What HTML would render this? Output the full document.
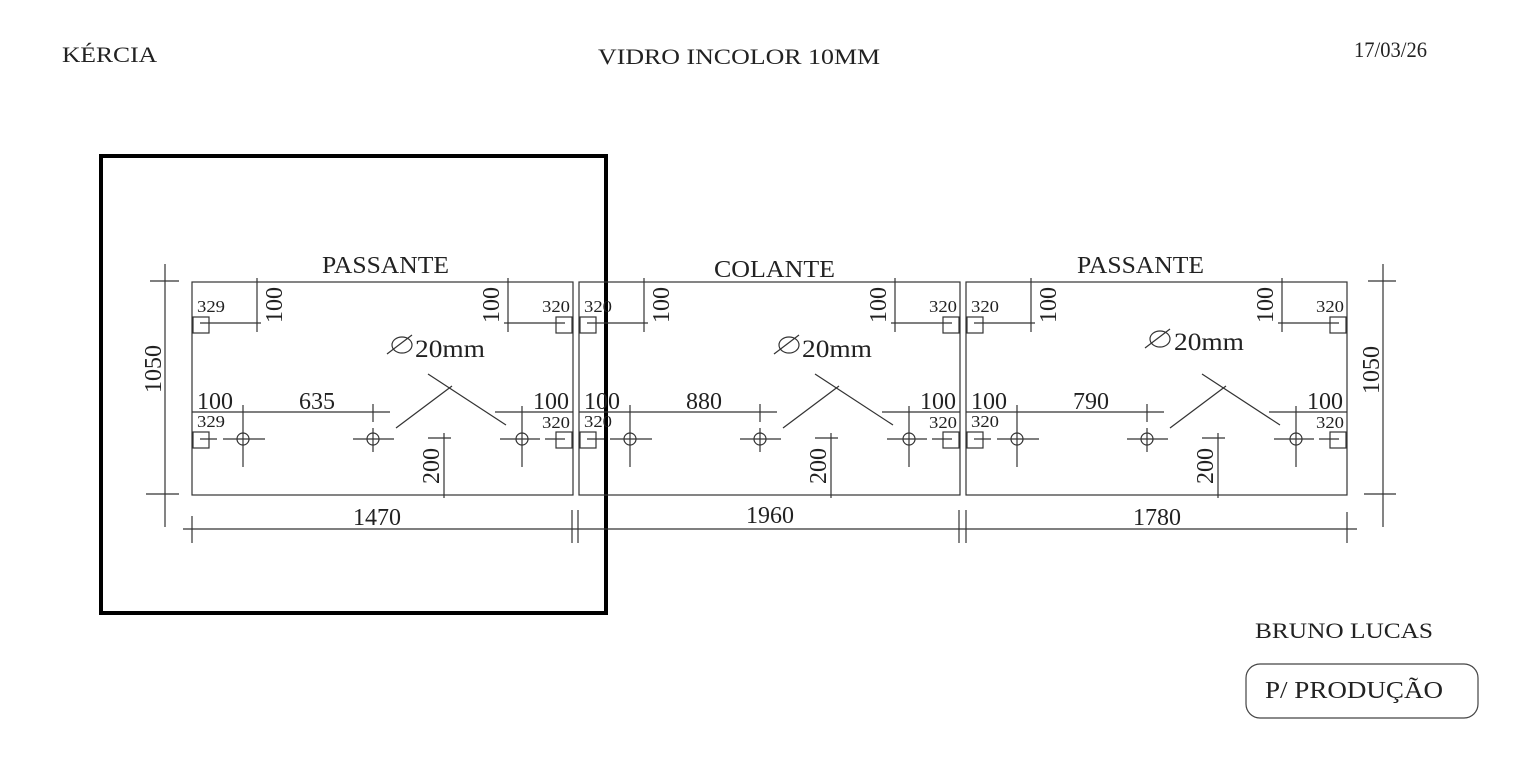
<!DOCTYPE html>
<html><head><meta charset="utf-8"><style>
html,body{margin:0;padding:0;background:#fff;}
svg{display:block;}
text{font-family:"Liberation Serif",serif;fill:#222;}
</style></head><body>
<svg width="1535" height="767" viewBox="0 0 1535 767" xmlns="http://www.w3.org/2000/svg">
<defs>
<g id="pnl" stroke="#333" stroke-width="1.2" fill="none">
  <rect x="0" y="0" width="381" height="213"/>
  <rect x="1" y="35" width="16" height="16"/>
  <line x1="8" y1="41" x2="69" y2="41"/>
  <line x1="65" y1="-4" x2="65" y2="50"/>
  <rect x="364" y="35" width="16" height="16"/>
  <line x1="312" y1="41" x2="373" y2="41"/>
  <line x1="316" y1="-4" x2="316" y2="50"/>
  <line x1="0" y1="130" x2="198" y2="130"/>
  <line x1="181" y1="122" x2="181" y2="140"/>
  <line x1="303" y1="130" x2="381" y2="130"/>
  <line x1="236" y1="92" x2="314" y2="143"/>
  <line x1="204" y1="146" x2="260" y2="104"/>
  <rect x="1" y="150" width="16" height="16"/>
  <rect x="364" y="150" width="16" height="16"/>
  <line x1="8" y1="157" x2="25" y2="157"/>
  <line x1="31" y1="157" x2="73" y2="157"/>
  <circle cx="51" cy="157" r="6"/>
  <line x1="51" y1="123" x2="51" y2="185"/>
  <line x1="161" y1="157" x2="202" y2="157"/>
  <circle cx="181" cy="157" r="6"/>
  <line x1="181" y1="146" x2="181" y2="170"/>
  <line x1="308" y1="157" x2="348" y2="157"/>
  <line x1="353" y1="157" x2="373" y2="157"/>
  <circle cx="330" cy="157" r="6"/>
  <line x1="330" y1="124" x2="330" y2="185"/>
  <line x1="252" y1="151" x2="252" y2="216"/>
  <line x1="236" y1="156" x2="259" y2="156"/>
</g>
<g id="dia" stroke="#333" stroke-width="1.2" fill="none">
  <ellipse cx="0" cy="0" rx="10" ry="8"/>
  <line x1="-15" y1="9" x2="10" y2="-10"/>
</g>
</defs>

<text x="62" y="62" font-size="22" textLength="95" lengthAdjust="spacingAndGlyphs">KÉRCIA</text>
<text x="598" y="64" font-size="22" textLength="282" lengthAdjust="spacingAndGlyphs">VIDRO INCOLOR 10MM</text>
<text x="1354" y="57" font-size="22" textLength="73" lengthAdjust="spacingAndGlyphs">17/03/26</text>

<rect x="101" y="156" width="505" height="457" fill="none" stroke="#000" stroke-width="4"/>

<!-- panel 1 -->
<g transform="translate(192,282)">
  <use href="#pnl"/>
  <use href="#dia" x="210" y="63"/>
  <text x="130" y="-9" font-size="24" textLength="127" lengthAdjust="spacingAndGlyphs">PASSANTE</text>
  <text x="5" y="30" font-size="17" textLength="28" lengthAdjust="spacingAndGlyphs">329</text>
  <text x="350" y="30" font-size="17" textLength="28" lengthAdjust="spacingAndGlyphs">320</text>
  <text transform="translate(83,23) rotate(-90)" font-size="24" text-anchor="middle" dominant-baseline="central">100</text>
  <text transform="translate(300,23) rotate(-90)" font-size="24" text-anchor="middle" dominant-baseline="central">100</text>
  <text x="223" y="75" font-size="25" textLength="70" lengthAdjust="spacingAndGlyphs">20mm</text>
  <text x="5" y="127" font-size="24">100</text>
  <text x="107" y="127" font-size="24">635</text>
  <text x="377" y="127" font-size="24" text-anchor="end">100</text>
  <text x="5" y="145" font-size="17" textLength="28" lengthAdjust="spacingAndGlyphs">329</text>
  <text x="350" y="146" font-size="17" textLength="28" lengthAdjust="spacingAndGlyphs">320</text>
  <text transform="translate(240,184) rotate(-90)" font-size="24" text-anchor="middle" dominant-baseline="central">200</text>
</g>
<!-- panel 2 -->
<g transform="translate(579,282)">
  <use href="#pnl"/>
  <use href="#dia" x="210" y="63"/>
  <text x="135" y="-5" font-size="24" textLength="121" lengthAdjust="spacingAndGlyphs">COLANTE</text>
  <text x="5" y="30" font-size="17" textLength="28" lengthAdjust="spacingAndGlyphs">320</text>
  <text x="350" y="30" font-size="17" textLength="28" lengthAdjust="spacingAndGlyphs">320</text>
  <text transform="translate(83,23) rotate(-90)" font-size="24" text-anchor="middle" dominant-baseline="central">100</text>
  <text transform="translate(300,23) rotate(-90)" font-size="24" text-anchor="middle" dominant-baseline="central">100</text>
  <text x="223" y="75" font-size="25" textLength="70" lengthAdjust="spacingAndGlyphs">20mm</text>
  <text x="5" y="127" font-size="24">100</text>
  <text x="107" y="127" font-size="24">880</text>
  <text x="377" y="127" font-size="24" text-anchor="end">100</text>
  <text x="5" y="145" font-size="17" textLength="28" lengthAdjust="spacingAndGlyphs">320</text>
  <text x="350" y="146" font-size="17" textLength="28" lengthAdjust="spacingAndGlyphs">320</text>
  <text transform="translate(240,184) rotate(-90)" font-size="24" text-anchor="middle" dominant-baseline="central">200</text>
</g>
<!-- panel 3 -->
<g transform="translate(966,282)">
  <use href="#pnl"/>
  <use href="#dia" x="194" y="57"/>
  <text x="111" y="-9" font-size="24" textLength="127" lengthAdjust="spacingAndGlyphs">PASSANTE</text>
  <text x="5" y="30" font-size="17" textLength="28" lengthAdjust="spacingAndGlyphs">320</text>
  <text x="350" y="30" font-size="17" textLength="28" lengthAdjust="spacingAndGlyphs">320</text>
  <text transform="translate(83,23) rotate(-90)" font-size="24" text-anchor="middle" dominant-baseline="central">100</text>
  <text transform="translate(300,23) rotate(-90)" font-size="24" text-anchor="middle" dominant-baseline="central">100</text>
  <text x="208" y="68" font-size="25" textLength="70" lengthAdjust="spacingAndGlyphs">20mm</text>
  <text x="5" y="127" font-size="24">100</text>
  <text x="107" y="127" font-size="24">790</text>
  <text x="377" y="127" font-size="24" text-anchor="end">100</text>
  <text x="5" y="145" font-size="17" textLength="28" lengthAdjust="spacingAndGlyphs">320</text>
  <text x="350" y="146" font-size="17" textLength="28" lengthAdjust="spacingAndGlyphs">320</text>
  <text transform="translate(240,184) rotate(-90)" font-size="24" text-anchor="middle" dominant-baseline="central">200</text>
</g>

<!-- dimension lines -->
<g stroke="#333" stroke-width="1.2">
  <line x1="183" y1="529" x2="1357" y2="529"/>
  <line x1="192" y1="516" x2="192" y2="543"/>
  <line x1="572" y1="510" x2="572" y2="543"/>
  <line x1="578" y1="510" x2="578" y2="543"/>
  <line x1="959" y1="510" x2="959" y2="543"/>
  <line x1="966" y1="510" x2="966" y2="543"/>
  <line x1="1347" y1="512" x2="1347" y2="543"/>
  <line x1="165" y1="264" x2="165" y2="527"/>
  <line x1="150" y1="281" x2="179" y2="281"/>
  <line x1="146" y1="494" x2="179" y2="494"/>
  <line x1="1383" y1="264" x2="1383" y2="527"/>
  <line x1="1368" y1="281" x2="1396" y2="281"/>
  <line x1="1364" y1="494" x2="1396" y2="494"/>
</g>
<text x="377" y="525" font-size="24" text-anchor="middle">1470</text>
<text x="770" y="523" font-size="24" text-anchor="middle">1960</text>
<text x="1157" y="525" font-size="24" text-anchor="middle">1780</text>
<text transform="translate(154,369) rotate(-90)" font-size="24" text-anchor="middle" dominant-baseline="central">1050</text>
<text transform="translate(1372,370) rotate(-90)" font-size="24" text-anchor="middle" dominant-baseline="central">1050</text>

<text x="1255" y="638" font-size="22" textLength="178" lengthAdjust="spacingAndGlyphs">BRUNO LUCAS</text>
<rect x="1246" y="664" width="232" height="54" rx="14" ry="14" fill="none" stroke="#444" stroke-width="1.2"/>
<text x="1265" y="698" font-size="24" textLength="178" lengthAdjust="spacingAndGlyphs">P/ PRODUÇÃO</text>
</svg>
</body></html>
